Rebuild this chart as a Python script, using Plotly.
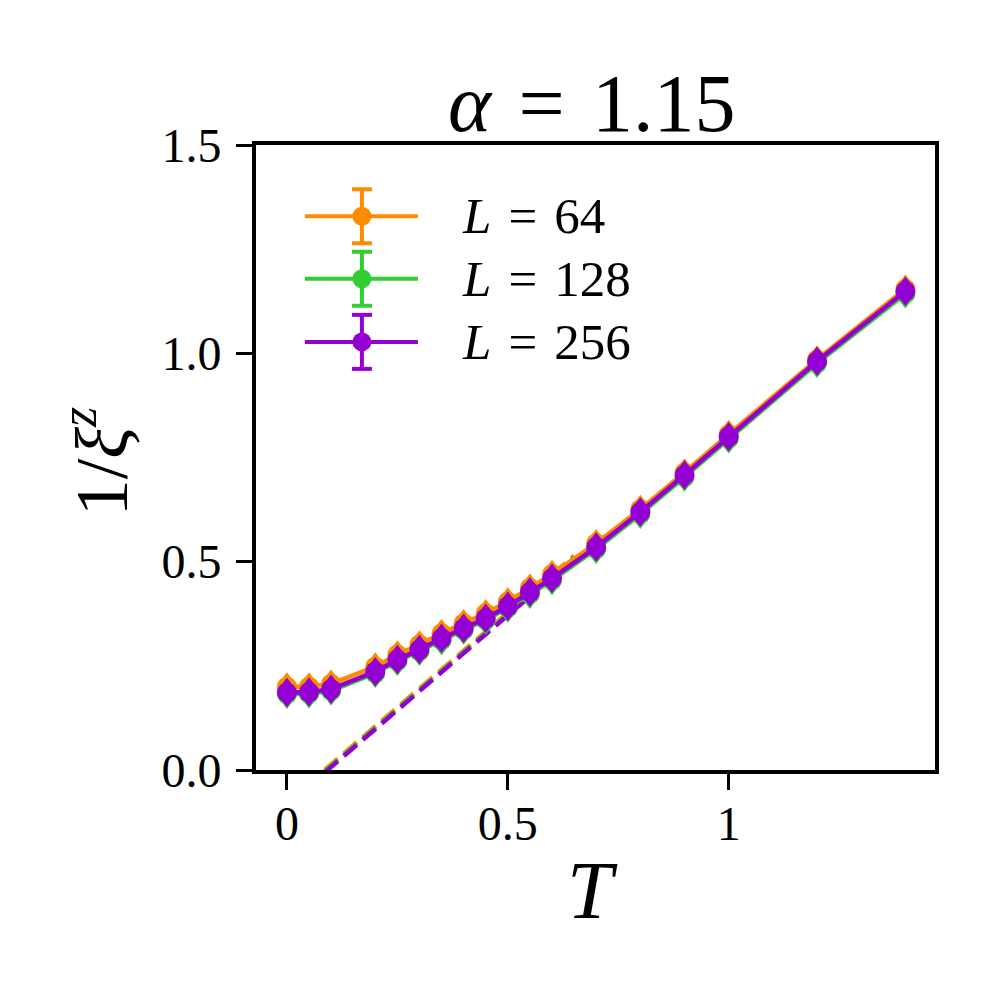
import plotly.graph_objects as go
import numpy as np

# ---------------- data ----------------
T = [0, 0.05, 0.1, 0.2, 0.25, 0.3, 0.35, 0.4, 0.45, 0.5, 0.55, 0.6, 0.7, 0.8, 0.9, 1.0, 1.2, 1.4]
y_L64 = [0.200, 0.200, 0.207, 0.248, 0.277, 0.301, 0.328, 0.352, 0.376, 0.404, 0.437, 0.470,
         0.544, 0.626, 0.714, 0.806, 0.985, 1.155]
y_L128 = [0.182, 0.183, 0.190, 0.232, 0.261, 0.285, 0.311, 0.336, 0.360, 0.389, 0.422, 0.455,
          0.530, 0.614, 0.703, 0.795, 0.976, 1.143]
y_L256 = [0.186, 0.187, 0.194, 0.236, 0.265, 0.289, 0.316, 0.340, 0.364, 0.393, 0.427, 0.460,
          0.535, 0.619, 0.708, 0.800, 0.981, 1.149]
err_L64 = [0.020] * 18
err_L128 = [0.021] * 18
err_L256 = [0.021] * 18

labels = ["L = 64", "L = 128", "L = 256"]
colors = ["#FF8C00", "#32CD32", "#9400D3"]

# linear fits: y = slope * (T - T0)
fit_slope = [0.91, 0.91, 0.91]
fit_T0 = [0.085, 0.089, 0.092]
fit_T_range = [0.0, 0.65]

x_ticks = [0, 0.5, 1]
x_ticktext = ["0", "0.5", "1"]
y_ticks = [0, 0.5, 1.0, 1.5]
y_ticktext = ["0.0", "0.5", "1.0", "1.5"]

FONT = "Liberation Serif"

fig = go.Figure()

series = [(y_L64, err_L64), (y_L128, err_L128), (y_L256, err_L256)]

# dashed fit lines
for i in range(3):
    tt = np.array(fit_T_range)
    fig.add_trace(go.Scatter(
        x=tt, y=fit_slope[i] * (tt - fit_T0[i]), mode="lines",
        line=dict(color=colors[i], width=4.5, dash="17px,8px"),
        showlegend=False, hoverinfo="skip"))

for i, (ys, es) in enumerate(series):
    ys = np.array(ys)
    es = np.array(es)
    fig.add_trace(go.Scatter(
        x=T, y=ys + es, mode="markers",
        marker=dict(symbol="triangle-up", size=12, color=colors[i], line=dict(width=0)),
        showlegend=False, hoverinfo="skip"))
    fig.add_trace(go.Scatter(
        x=T, y=ys - es, mode="markers",
        marker=dict(symbol="triangle-down", size=12, color=colors[i], line=dict(width=0)),
        showlegend=False, hoverinfo="skip"))
    fig.add_trace(go.Scatter(
        x=T, y=ys, mode="lines+markers", name=labels[i],
        line=dict(color=colors[i], width=4.5),
        marker=dict(symbol="circle", size=20, color=colors[i], line=dict(width=0)),
        error_y=dict(type="data", array=es, color=colors[i], thickness=2, width=0),
        showlegend=False))

# ---------------- manual legend ----------------
shapes = []
annotations = []
leg_x = 0.156
leg_rows = [0.886, 0.786, 0.685]
for i in range(3):
    yc = leg_rows[i]
    common = dict(xref="paper", yref="paper", xsizemode="pixel", ysizemode="pixel",
                  xanchor=leg_x, yanchor=yc)
    shapes.append(dict(type="line", x0=-57, x1=56, y0=0, y1=0,
                       line=dict(color=colors[i], width=4), **common))
    shapes.append(dict(type="line", x0=0, x1=0, y0=-27, y1=27,
                       line=dict(color=colors[i], width=4), **common))
    for yy in (-27, 27):
        shapes.append(dict(type="line", x0=-10, x1=10, y0=yy, y1=yy,
                           line=dict(color=colors[i], width=4), **common))
    shapes.append(dict(type="circle", x0=-9.5, x1=9.5, y0=-9.5, y1=9.5,
                       fillcolor=colors[i], line=dict(width=0), **common))
    name, val = labels[i].split(" = ")
    annotations.append(dict(
        x=0.300, y=yc, xref="paper", yref="paper", xanchor="left", yanchor="middle",
        text=f"<i>{name}</i>&#8196;=&#8196;{val}", showarrow=False,
        font=dict(family=FONT, size=51, color="black")))

# titles
annotations.append(dict(x=0.495, y=1.067, xref="paper", yref="paper",
                        xanchor="center", yanchor="middle", showarrow=False,
                        text="<i>α</i>&#8196;=&#8196;1.15",
                        font=dict(family=FONT, size=82, color="black")))
annotations.append(dict(x=0.495, y=-0.192, xref="paper", yref="paper",
                        xanchor="center", yanchor="middle", showarrow=False,
                        text="<i>T</i>", font=dict(family=FONT, size=82, color="black")))
annotations.append(dict(x=-0.235, y=0.493, xref="paper", yref="paper",
                        xanchor="center", yanchor="middle", showarrow=False, textangle=-90,
                        text="1/<i>ξ</i><sup><i>z</i></sup>",
                        font=dict(family=FONT, size=74, color="black")))

axis_common = dict(showline=True, linewidth=4, linecolor="black", mirror=True,
                   ticks="outside", ticklen=16, tickwidth=3, tickcolor="black",
                   showgrid=False, zeroline=False,
                   tickfont=dict(family=FONT, size=48, color="black"))

fig.update_layout(
    width=1000, height=1000,
    margin=dict(l=248, r=73, t=137, b=238),
    paper_bgcolor="white", plot_bgcolor="white",
    showlegend=False,
    shapes=shapes, annotations=annotations,
    xaxis=dict(range=[-0.07, 1.467], tickvals=x_ticks, ticktext=x_ticktext,
               ticklabelstandoff=-8, **axis_common),
    yaxis=dict(range=[0, 1.5], tickvals=y_ticks, ticktext=y_ticktext,
               ticklabelstandoff=5, **axis_common),
)

fig.write_html("out.html")
